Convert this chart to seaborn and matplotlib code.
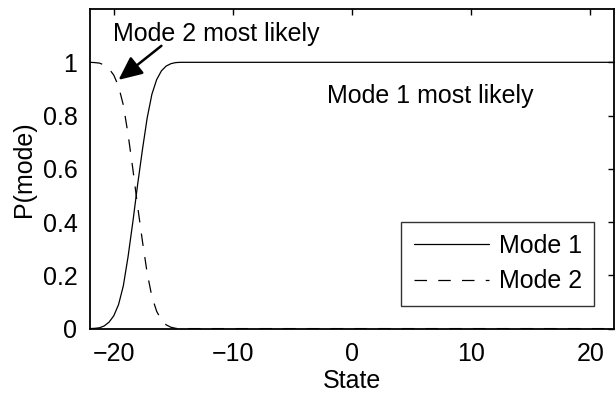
import matplotlib
matplotlib.use("Agg")
import matplotlib.pyplot as plt
import seaborn as sns
import pandas as pd

# ---- data ----
state = [-22.0, -21.6, -21.2, -20.8, -20.4, -20.0, -19.6, -19.2, -18.8, -18.4,
         -18.0, -17.6, -17.2, -16.8, -16.4, -16.0, -15.6, -15.2, -14.8, -14.4,
         -14.0, 22.0]
mode1 = [0.000, 0.001, 0.003, 0.010, 0.024, 0.048, 0.090, 0.160, 0.270, 0.400,
         0.540, 0.670, 0.790, 0.880, 0.935, 0.968, 0.986, 0.995, 0.999, 1.000,
         1.000, 1.000]
mode2 = [1.000, 0.999, 0.997, 0.990, 0.976, 0.952, 0.910, 0.840, 0.730, 0.600,
         0.460, 0.330, 0.210, 0.120, 0.065, 0.032, 0.014, 0.005, 0.001, 0.000,
         0.000, 0.000]
series_names = ["Mode 1", "Mode 2"]
x_ticks = [-20, -10, 0, 10, 20]
y_ticks = [0, 0.2, 0.4, 0.6, 0.8, 1.0]
y_tick_labels = ["0", "0.2", "0.4", "0.6", "0.8", "1"]

df = pd.concat([
    pd.DataFrame({"State": state, "P": mode1, "series": series_names[0]}),
    pd.DataFrame({"State": state, "P": mode2, "series": series_names[1]}),
])

FS = 18

sns.set_theme(style="white")
plt.rcParams["font.family"] = ["Liberation Sans", "DejaVu Sans"]
plt.rcParams["xtick.direction"] = "in"
plt.rcParams["ytick.direction"] = "in"
for k in ["text.color", "axes.labelcolor", "xtick.color", "ytick.color",
          "xtick.labelcolor", "ytick.labelcolor"]:
    plt.rcParams[k] = "black"

fig = plt.figure(figsize=(6.16, 3.94), dpi=100)
ax = fig.add_axes([0.146, 0.166, 0.851, 0.811])

sns.lineplot(data=df, x="State", y="P", style="series",
             dashes={"Mode 1": "", "Mode 2": (10, 9)},
             color="black", linewidth=0.9, ax=ax, sort=False)

ax.set_xlim(-22, 22)
ax.set_ylim(0, 1.2)
ax.set_xticks(x_ticks)
ax.set_yticks(y_ticks)
ax.set_yticklabels(y_tick_labels)
ax.tick_params(axis="both", which="both", labelsize=FS, length=4, width=1,
               color="black", labelcolor="black", top=True, right=True)
ax.tick_params(axis="x", pad=10)
ax.tick_params(axis="y", pad=9)
for s in ax.spines.values():
    s.set_color("black")
    s.set_linewidth(1.3)
    s.set_visible(True)

ax.set_xlabel("State", fontsize=FS, labelpad=2, color="black")
ax.set_ylabel("P(mode)", fontsize=FS, color="black")
ax.yaxis.set_label_coords(-0.103, 0.5)

ax.text(-2.1, 0.874, "Mode 1 most likely", fontsize=FS, va="center", ha="left",
        color="black")
ax.text(-20.1, 1.108, "Mode 2 most likely", fontsize=FS, va="center", ha="left",
        color="black")
ax.annotate("", xy=(-19.6, 0.934), xytext=(-16.0, 1.062),
            arrowprops=dict(arrowstyle="-|>,head_length=1.2,head_width=0.55",
                            color="black", lw=1.8, shrinkA=0, shrinkB=0))

leg = ax.legend(loc="lower right", bbox_to_anchor=(0.962, 0.071),
                borderaxespad=0, fontsize=FS, frameon=True, fancybox=False,
                handlelength=3.0, handletextpad=0.4, labelspacing=0.45,
                borderpad=0.5, title=None)
leg.get_frame().set_edgecolor("black")
leg.get_frame().set_linewidth(1.0)
for line in leg.get_lines():
    line.set_linewidth(0.9)
for t in leg.get_texts():
    t.set_color("black")

fig.savefig("out.png", dpi=100)
